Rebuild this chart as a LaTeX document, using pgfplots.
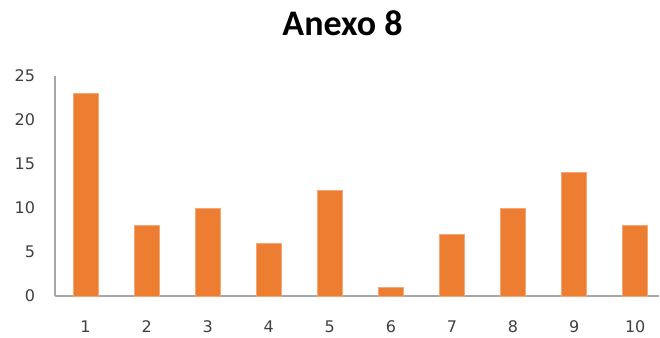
\documentclass[border=0pt]{standalone}
\usepackage{fontspec}
\setmainfont{Carlito}
\newfontfamily\tickfont{DejaVu Sans}
\usepackage{pgfplots}
\pgfplotsset{compat=1.18}
\definecolor{barorange}{HTML}{ED7D31}
\definecolor{baredge}{HTML}{F4A878}
\definecolor{axgray}{HTML}{A6A6A6}
\definecolor{ticktext}{HTML}{404040}
\begin{document}
\begin{tikzpicture}
\path[use as bounding box] (0pt,0pt) rectangle (495pt,252.75pt);
\node[anchor=base,font=\fontsize{27}{30}\selectfont\bfseries] at (256.9pt,226.5pt) {Anexo 8};
\begin{axis}[
  at={(41.25pt,30.75pt)}, anchor=south west,
  scale only axis,
  width=453pt, height=165pt,
  xmin=0.5, xmax=10.39,
  ymin=0, ymax=25,
  axis x line*=bottom,
  axis y line*=left,
  axis line style={axgray, line width=1pt},
  xtick={1,...,10},
  ytick={0,5,...,25},
  major tick length=0pt,
  tick label style={font=\tickfont\fontsize{12}{14}\selectfont, text=ticktext},
  xticklabel style={yshift=-15pt},
  yticklabel style={xshift=-11.5pt},
  /pgf/number format/assume math mode=true,
  clip=false,
]
\addplot[ybar, bar width=18.75pt, fill=barorange, draw=baredge, line width=0.5pt]
  coordinates {(1,23) (2,8) (3,10) (4,6) (5,12) (6,1) (7,7) (8,10) (9,14) (10,8)};
\end{axis}
\end{tikzpicture}
\end{document}
